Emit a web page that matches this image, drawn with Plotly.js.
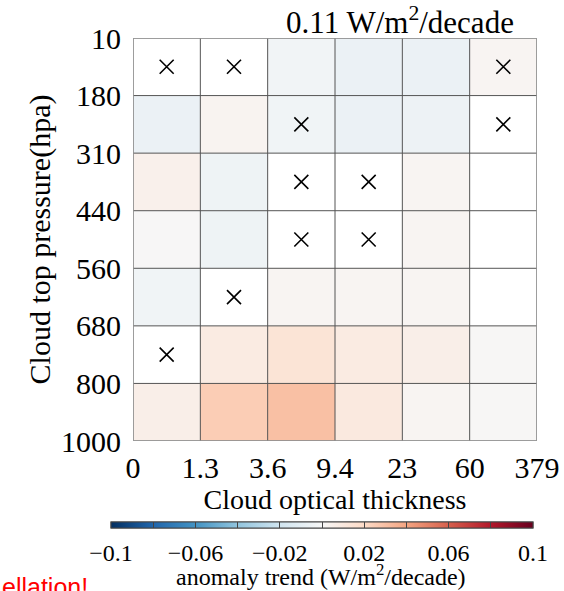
<!DOCTYPE html>
<html>
<head>
<meta charset="utf-8">
<script src="https://cdn.plot.ly/plotly-3.0.1.min.js"></script>
<style>html,body{margin:0;padding:0;background:#fff;}#chart{width:564px;height:591px;}</style>
</head>
<body>
<div id="chart"></div>
<script>
// ---- data ----
const opticalEdges = ['0', '1.3', '3.6', '9.4', '23', '60', '379'];
const pressureEdges = ['10', '180', '310', '440', '560', '680', '800', '1000'];
// anomaly trend (W/m2/decade); rows top (10-180 hPa) to bottom (800-1000 hPa); null = blank cell
const trend = [
  [null,    null,    -0.003,  -0.0065, -0.0065, 0.002],
  [-0.0065, 0.003,   -0.0035, -0.0065, -0.0055, null],
  [0.005,   -0.005,  null,    null,    0.002,   null],
  [0.0005,  -0.005,  null,    null,    0.002,   null],
  [-0.0035, null,    0.002,   0.002,   0.002,   null],
  [null,    0.0086,  0.0136,  0.0086,  0.0064,  0.001],
  [0.0064,  0.0252,  0.03,    0.01,    0.002,   0.001]
];
// cells marked with a cross
const marked = [
  [1, 1, 0, 0, 0, 1],
  [0, 0, 1, 0, 0, 1],
  [0, 0, 1, 1, 0, 0],
  [0, 0, 1, 1, 0, 0],
  [0, 1, 0, 0, 0, 0],
  [1, 0, 0, 0, 0, 0],
  [0, 0, 0, 0, 0, 0]
];
const totalTrendText = '0.11 W/m<sup>2</sup>/decade';
const cbTitleText = 'anomaly trend (W/m<sup>2</sup>/decade)';
const cbLabelVals = [-0.1, -0.06, -0.02, 0.02, 0.06, 0.1];
const cbLabelText = ['\u22120.1', '\u22120.06', '\u22120.02', '0.02', '0.06', '0.1'];
const cbDividerVals = [-0.08, -0.06, -0.04, -0.02, 0, 0.02, 0.04, 0.06, 0.08];

// ---- build ----
const nCol = opticalEdges.length - 1;
const nRow = pressureEdges.length - 1;
const colIdx = Array.from({length: nCol}, (_, i) => i);
const rowIdx = Array.from({length: nRow}, (_, i) => i);
const colEdgeIdx = opticalEdges.map((_, i) => i - 0.5);
const rowEdgeIdx = pressureEdges.map((_, i) => i - 0.5);

const rdbu = ['#053061', '#2166ac', '#4393c3', '#92c5de', '#d1e5f0', '#f7f7f7',
              '#fddbc7', '#f4a582', '#d6604d', '#b2182b', '#67001f'];
const colorscale = rdbu.map((c, i) => [i / (rdbu.length - 1), c]);

const mx = [], my = [];
marked.forEach((row, i) => row.forEach((v, j) => { if (v) { mx.push(j); my.push(i); } }));

const serif = 'Liberation Serif, Times New Roman, serif';
const plotL = 133, plotT = 38, plotW = 404, plotH = 403;
const px2x = p => (p - plotL) / plotW;
const px2y = p => (plotT + plotH - p) / plotH;

const cbBase = {
  orientation: 'h', thickness: 6, len: 422, lenmode: 'pixels',
  x: px2x(322), xanchor: 'center', y: px2y(522), yanchor: 'top',
  xpad: 0, ypad: 0, outlinewidth: 1, outlinecolor: '#444'
};

const traces = [
  { // the field; its colour bar carries the tick labels
    type: 'heatmap',
    x: colIdx, y: rowIdx, z: trend,
    zmin: -0.1, zmax: 0.1, colorscale: colorscale, hoverongaps: false,
    colorbar: Object.assign({}, cbBase, {
      tickmode: 'array', tickvals: cbLabelVals, ticktext: cbLabelText,
      ticks: 'outside', ticklen: 4, tickcolor: 'rgba(0,0,0,0)',
      tickfont: {family: serif, size: 24, color: '#000'}
    })
  },
  { // transparent copy: colour bar divider lines every 0.02
    type: 'heatmap',
    x: colIdx, y: rowIdx, z: trend,
    zmin: -0.1, zmax: 0.1, colorscale: colorscale, opacity: 0, hoverinfo: 'skip',
    colorbar: Object.assign({}, cbBase, {
      tickmode: 'array', tickvals: cbDividerVals,
      ticks: 'inside', ticklen: 6, tickwidth: 1, tickcolor: '#444', showticklabels: false
    })
  },
  {
    type: 'scatter', mode: 'markers',
    x: mx, y: my,
    marker: {symbol: 'x-thin', size: 14, color: '#000', line: {width: 1.6, color: '#000'}},
    hoverinfo: 'skip', showlegend: false
  }
];

const shapes = [];
colEdgeIdx.forEach(x => shapes.push({type: 'line', xref: 'x', yref: 'y', x0: x, x1: x,
  y0: rowEdgeIdx[0], y1: rowEdgeIdx[rowEdgeIdx.length - 1], line: {color: '#555', width: 1}, layer: 'above'}));
rowEdgeIdx.forEach(y => shapes.push({type: 'line', xref: 'x', yref: 'y', y0: y, y1: y,
  x0: colEdgeIdx[0], x1: colEdgeIdx[colEdgeIdx.length - 1], line: {color: '#555', width: 1}, layer: 'above'}));
shapes.push({type: 'rect', xref: 'x', yref: 'y', x0: colEdgeIdx[0], x1: colEdgeIdx[colEdgeIdx.length - 1],
  y0: rowEdgeIdx[0], y1: rowEdgeIdx[rowEdgeIdx.length - 1], line: {color: '#999', width: 1.5}, layer: 'above'});

const layout = {
  width: 564, height: 591,
  margin: {l: plotL, r: 564 - plotL - plotW, t: plotT, b: 591 - plotT - plotH, pad: 0, autoexpand: false},
  paper_bgcolor: '#fff', plot_bgcolor: '#fff',
  showlegend: false,
  title: {text: totalTrendText, font: {family: serif, size: 31, color: '#000'},
          xref: 'container', yref: 'container', x: 400 / 564, xanchor: 'center',
          y: 1 - 22 / 591, yanchor: 'middle'},
  xaxis: {
    range: [colEdgeIdx[0], colEdgeIdx[colEdgeIdx.length - 1]],
    tickmode: 'array', tickvals: colEdgeIdx, ticktext: opticalEdges,
    ticks: 'outside', ticklen: 0, tickcolor: 'rgba(0,0,0,0)',
    showgrid: false, zeroline: false, showline: false,
    tickfont: {family: serif, size: 30, color: '#000'},
    title: {text: 'Cloud optical thickness', font: {family: serif, size: 28, color: '#000'}, standoff: 0},
    fixedrange: true
  },
  yaxis: {
    range: [rowEdgeIdx[rowEdgeIdx.length - 1], rowEdgeIdx[0]],
    tickmode: 'array', tickvals: rowEdgeIdx, ticktext: pressureEdges,
    ticks: 'outside', ticklen: 5, tickcolor: 'rgba(0,0,0,0)',
    showgrid: false, zeroline: false, showline: false,
    tickfont: {family: serif, size: 30, color: '#000'},
    title: {text: 'Cloud top pressure(hpa)', font: {family: serif, size: 30, color: '#000'}, standoff: 1},
    fixedrange: true
  },
  shapes: shapes,
  annotations: [
    {text: cbTitleText, xref: 'paper', yref: 'paper', x: px2x(321), xanchor: 'center',
     y: px2y(575), yanchor: 'middle', showarrow: false,
     font: {family: serif, size: 24, color: '#000'}},
    {text: 'ellation!', xref: 'paper', yref: 'paper', x: px2x(0), xanchor: 'left',
     y: px2y(571), yanchor: 'top', showarrow: false,
     font: {family: 'Liberation Sans, Arial, sans-serif', size: 25, color: '#ff0000'}}
  ]
};

Plotly.newPlot('chart', traces, layout, {displayModeBar: false, staticPlot: true});
</script>
</body>
</html>
